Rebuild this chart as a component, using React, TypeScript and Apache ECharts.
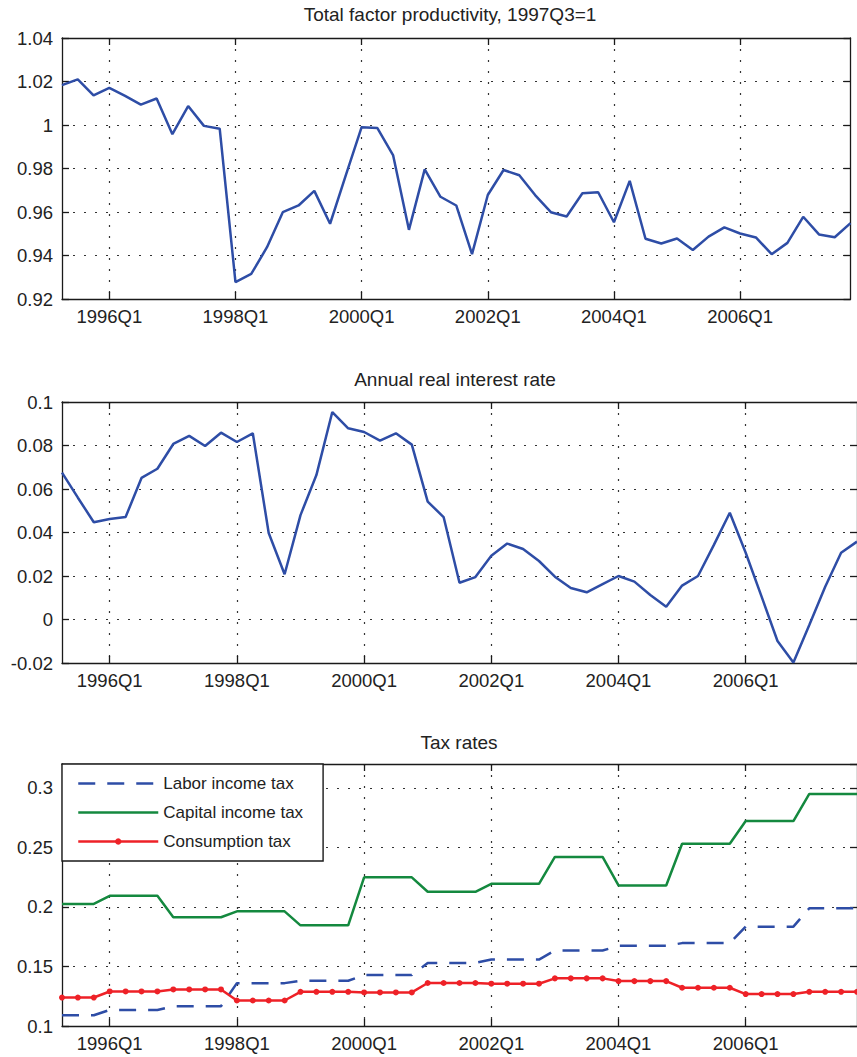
import React, { useEffect, useRef } from "react";
import * as echarts from "echarts";

const quarters = [
  "1995Q2", "1995Q3", "1995Q4",
  "1996Q1", "1996Q2", "1996Q3", "1996Q4",
  "1997Q1", "1997Q2", "1997Q3", "1997Q4",
  "1998Q1", "1998Q2", "1998Q3", "1998Q4",
  "1999Q1", "1999Q2", "1999Q3", "1999Q4",
  "2000Q1", "2000Q2", "2000Q3", "2000Q4",
  "2001Q1", "2001Q2", "2001Q3", "2001Q4",
  "2002Q1", "2002Q2", "2002Q3", "2002Q4",
  "2003Q1", "2003Q2", "2003Q3", "2003Q4",
  "2004Q1", "2004Q2", "2004Q3", "2004Q4",
  "2005Q1", "2005Q2", "2005Q3", "2005Q4",
  "2006Q1", "2006Q2", "2006Q3", "2006Q4",
  "2007Q1", "2007Q2", "2007Q3", "2007Q4",
];

const xTickLabels = ["1996Q1", "1998Q1", "2000Q1", "2002Q1", "2004Q1", "2006Q1"];

const tfp = [
  1.0183, 1.021, 1.0136, 1.0171, 1.0134, 1.0094, 1.0122, 0.9958, 1.0087, 0.9996,
  0.9983, 0.9278, 0.9315, 0.9438, 0.9599, 0.963, 0.9697, 0.9546, 0.977, 0.999,
  0.9986, 0.986, 0.9518, 0.9796, 0.967, 0.963, 0.9406, 0.9678, 0.9793, 0.9769,
  0.9678, 0.9599, 0.9579, 0.9686, 0.9691, 0.9553, 0.9743, 0.9477, 0.9455, 0.9478,
  0.9425, 0.9487, 0.9529, 0.9501, 0.9483, 0.9406, 0.9458, 0.9578, 0.9497, 0.9484,
  0.9549,
];

const realRate = [
  0.0675, 0.056, 0.0447, 0.0462, 0.0471, 0.0651, 0.0693, 0.0807, 0.0844, 0.0798,
  0.0859, 0.0816, 0.0856, 0.0398, 0.0208, 0.048, 0.0664, 0.0954, 0.0879, 0.0862,
  0.0822, 0.0856, 0.0804, 0.0542, 0.0471, 0.0169, 0.0195, 0.0293, 0.0349, 0.0324,
  0.0269, 0.0197, 0.0145, 0.0125, 0.0163, 0.02, 0.0174, 0.0113, 0.0059, 0.0156,
  0.02, 0.0343, 0.0491, 0.0307, 0.0105, -0.0099, -0.0198, -0.0025, 0.0151, 0.0307,
  0.0358,
];

const laborTax = [
  0.109, 0.109, 0.109,
  0.1135, 0.1135, 0.1135, 0.1135,
  0.1166, 0.1166, 0.1166, 0.1166,
  0.136, 0.136, 0.136, 0.136,
  0.138, 0.138, 0.138, 0.138,
  0.1428, 0.1428, 0.1428, 0.1428,
  0.153, 0.153, 0.153, 0.153,
  0.1558, 0.1558, 0.1558, 0.1558,
  0.1634, 0.1634, 0.1634, 0.1634,
  0.1673, 0.1673, 0.1673, 0.1673,
  0.1696, 0.1696, 0.1696, 0.1696,
  0.1834, 0.1834, 0.1834, 0.1834,
  0.1989, 0.1989, 0.1989, 0.1989,
];

const capitalTax = [
  0.2025, 0.2025, 0.2025,
  0.2093, 0.2093, 0.2093, 0.2093,
  0.1913, 0.1913, 0.1913, 0.1913,
  0.1963, 0.1963, 0.1963, 0.1963,
  0.1845, 0.1845, 0.1845, 0.1845,
  0.2248, 0.2248, 0.2248, 0.2248,
  0.2127, 0.2127, 0.2127, 0.2127,
  0.2194, 0.2194, 0.2194, 0.2194,
  0.242, 0.242, 0.242, 0.242,
  0.218, 0.218, 0.218, 0.218,
  0.253, 0.253, 0.253, 0.253,
  0.2721, 0.2721, 0.2721, 0.2721,
  0.2949, 0.2949, 0.2949, 0.2949,
];

const consumptionTax = [
  0.1239, 0.1239, 0.1239,
  0.129, 0.129, 0.129, 0.129,
  0.1307, 0.1307, 0.1307, 0.1307,
  0.1214, 0.1214, 0.1214, 0.1214,
  0.1287, 0.1287, 0.1287, 0.1287,
  0.1282, 0.1282, 0.1282, 0.1282,
  0.1361, 0.1361, 0.1361, 0.1361,
  0.1355, 0.1355, 0.1355, 0.1355,
  0.14, 0.14, 0.14, 0.14,
  0.1377, 0.1377, 0.1377, 0.1377,
  0.1321, 0.1321, 0.1321, 0.1321,
  0.1268, 0.1268, 0.1268, 0.1268,
  0.1287, 0.1287, 0.1287, 0.1287,
];

const titles = ["Total factor productivity, 1997Q3=1", "Annual real interest rate", "Tax rates"];
const seriesNames = ["Labor income tax", "Capital income tax", "Consumption tax"];

const FONT = '"Liberation Sans", Arial, Helvetica, sans-serif';
const AX = "#1a1a1a";
const TXT = "#222";
const BLUE = "#2E4DA6";
const GREEN = "#14893F";
const RED = "#EE2127";

const isTick = (_i: number, v: string) => xTickLabels.indexOf(v) >= 0;

function xAxesFor(gridIndex: number) {
  const common = {
    type: "category",
    gridIndex,
    data: quarters,
    boundaryGap: false,
    axisLine: { show: true, onZero: false, lineStyle: { color: AX, width: 1.3 } },
    axisTick: { show: true, inside: true, length: 7, interval: isTick, lineStyle: { color: AX, width: 1.3 } },
  };
  return [
    {
      ...common,
      position: "bottom",
      axisLabel: { show: true, interval: isTick, margin: 8, fontSize: 18.5, color: TXT, fontFamily: FONT },
      splitLine: { show: true, interval: isTick, lineStyle: { color: "#333", type: [2, 9], width: 1.2 } },
    },
    {
      ...common,
      position: "top",
      axisLabel: { show: false },
      splitLine: { show: false },
    },
  ];
}

function yAxesFor(gridIndex: number, min: number, max: number, interval: number, showMax: boolean) {
  const common = {
    type: "value",
    gridIndex,
    min,
    max,
    interval,
    axisLine: { show: true, lineStyle: { color: AX, width: 1.3 } },
    axisTick: { show: true, inside: true, length: 7, lineStyle: { color: AX, width: 1.3 } },
  };
  return [
    {
      ...common,
      position: "left",
      axisLabel: { show: true, margin: 9, fontSize: 18.5, color: TXT, fontFamily: FONT, showMaxLabel: showMax },
      splitLine: { show: true, lineStyle: { color: "#333", type: [2, 9], width: 1.2 } },
    },
    {
      ...common,
      position: "right",
      axisLabel: { show: false },
      splitLine: { show: false },
    },
  ];
}

export default function App() {
  const ref = useRef<HTMLDivElement>(null);
  useEffect(() => {
    if (!ref.current) return;
    const chart = echarts.init(ref.current, null, { renderer: "svg" });
    const titleStyle = { fontSize: 19, fontWeight: "normal", color: TXT, fontFamily: FONT };
    const option: any = {
      animation: false,
      backgroundColor: "#fff",
      title: [
        { text: titles[0], left: 450, top: 5, textAlign: "center", padding: 0, textStyle: titleStyle },
        { text: titles[1], left: 455, top: 369.5, textAlign: "center", padding: 0, textStyle: titleStyle },
        { text: titles[2], left: 459, top: 733, textAlign: "center", padding: 0, textStyle: titleStyle },
      ],
      grid: [
        { left: 62, top: 38, width: 788.5, height: 261 },
        { left: 62, top: 402, width: 796, height: 261 },
        { left: 62, top: 764, width: 796, height: 262 },
      ],
      xAxis: [...xAxesFor(0), ...xAxesFor(1), ...xAxesFor(2)],
      yAxis: [
        ...yAxesFor(0, 0.92, 1.04, 0.02, true),
        ...yAxesFor(1, -0.02, 0.1, 0.02, true),
        ...yAxesFor(2, 0.1, 0.32, 0.05, false),
      ],
      legend: {
        left: 62,
        top: 764,
        orient: "vertical",
        backgroundColor: "#fff",
        borderColor: AX,
        borderWidth: 1.4,
        borderRadius: 0,
        padding: [11, 20, 11, 15],
        itemGap: 12,
        itemWidth: 80,
        itemHeight: 8,
        lineStyle: { width: 2.5 },
        textStyle: { fontSize: 17, lineHeight: 17, color: TXT, fontFamily: FONT },
        data: [
          { name: seriesNames[0], itemStyle: { opacity: 0 } },
          { name: seriesNames[1], itemStyle: { opacity: 0 } },
          { name: seriesNames[2] },
        ],
      },
      series: [
        {
          type: "line",
          name: "TFP",
          xAxisIndex: 0,
          yAxisIndex: 0,
          data: tfp,
          symbol: "none",
          lineStyle: { color: BLUE, width: 2.5 },
          itemStyle: { color: BLUE },
        },
        {
          type: "line",
          name: "Real rate",
          xAxisIndex: 2,
          yAxisIndex: 2,
          data: realRate,
          symbol: "none",
          lineStyle: { color: BLUE, width: 2.5 },
          itemStyle: { color: BLUE },
        },
        {
          type: "line",
          name: seriesNames[0],
          xAxisIndex: 4,
          yAxisIndex: 4,
          data: laborTax,
          symbol: "none",
          lineStyle: { color: BLUE, width: 2.5, type: [17, 12] },
          itemStyle: { color: BLUE },
        },
        {
          type: "line",
          name: seriesNames[1],
          xAxisIndex: 4,
          yAxisIndex: 4,
          data: capitalTax,
          symbol: "none",
          lineStyle: { color: GREEN, width: 2.5 },
          itemStyle: { color: GREEN },
        },
        {
          type: "line",
          name: seriesNames[2],
          xAxisIndex: 4,
          yAxisIndex: 4,
          data: consumptionTax,
          symbol: "circle",
          symbolSize: 6,
          lineStyle: { color: RED, width: 2.5 },
          itemStyle: { color: RED },
        },
      ],
    };
    chart.setOption(option);
    return () => chart.dispose();
  }, []);
  return (
    <div
      ref={ref}
      style={{ position: "absolute", left: 0, top: 0, width: 857, height: 1057, background: "#fff" }}
    />
  );
}
